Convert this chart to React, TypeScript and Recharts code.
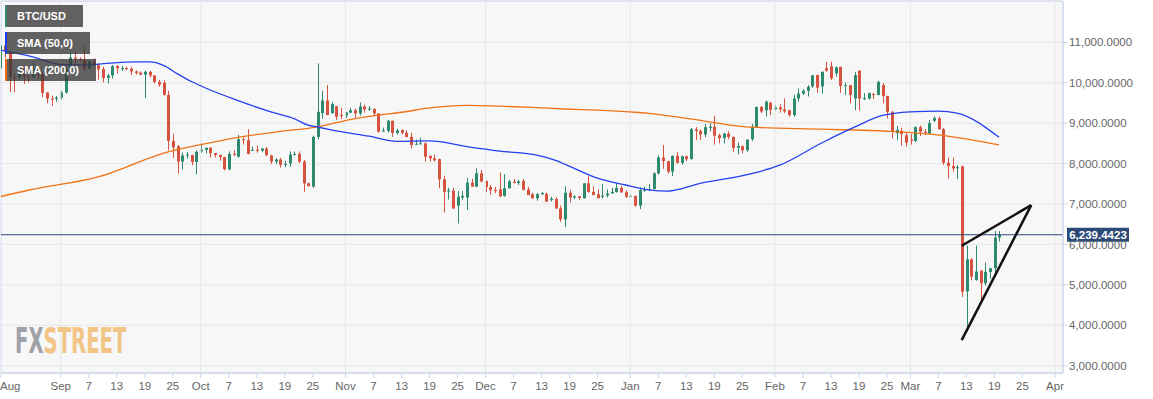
import React from 'react';
import { ComposedChart, Bar, Line, XAxis, YAxis, CartesianGrid, ReferenceLine, ReferenceArea } from 'recharts';

// daily candles [open, high, low, close], day 0 = Sep 1 2019
const augCandles = [ // Aug 19..31
  [10350, 10930, 10310, 10920], [10920, 10950, 10620, 10760], [10760, 10770, 9770, 10140], [10140, 10230, 9760, 10130],
  [10140, 10440, 10080, 10410], [10410, 10430, 9970, 10160], [10160, 10310, 10010, 10140], [10130, 10510, 10130, 10370],
  [10370, 10380, 10090, 10190], [10200, 10280, 9640, 9750], [9760, 9760, 9490, 9610], [9610, 9680, 9430, 9600],
  [9600, 9670, 9530, 9630],
];
const sepCandles = [
  [9630, 9800, 9580, 9760], [9760, 10400, 9730, 10350], [10350, 10740, 10310, 10620], [10620, 10760, 10430, 10590],
  [10590, 10630, 10520, 10580], [10580, 10930, 10290, 10350], [10350, 10560, 10350, 10520], [10520, 10600, 10410, 10440],
  [10440, 10480, 10070, 10330], [10340, 10390, 10010, 10120], [10120, 10220, 9980, 10180], [10180, 10440, 10100, 10410],
  [10410, 10440, 10230, 10360], [10350, 10420, 10290, 10360], [10360, 10390, 10310, 10350], [10350, 10390, 10190, 10280],
  [10280, 10300, 10200, 10240], [10250, 10280, 10190, 10200], [10200, 10300, 9620, 10270], [10270, 10290, 10130, 10180],
  [10180, 10190, 9980, 10020], [10020, 10070, 9900, 9950], [10000, 10060, 9680, 9700], [9700, 9800, 8330, 8560],
  [8560, 8740, 8140, 8400], [8430, 8460, 7750, 8050], [8050, 8270, 7850, 8200], [8200, 8290, 8120, 8220],
  [8210, 8220, 7960, 8040], [8040, 8330, 7730, 8290],
];
const octCandles = [
  [8300, 8500, 8270, 8340], [8340, 8390, 8250, 8390], [8390, 8410, 8150, 8260], [8260, 8260, 8150, 8210],
  [8210, 8220, 8070, 8160], [8160, 8170, 7830, 7860], [7860, 8300, 7830, 8240], [8240, 8330, 8190, 8230],
  [8170, 8710, 8150, 8600], [8600, 8650, 8470, 8580], [8580, 8850, 8230, 8240], [8320, 8420, 8310, 8340],
  [8340, 8450, 8270, 8320], [8320, 8390, 8280, 8370], [8370, 8410, 8180, 8210], [8200, 8220, 7990, 8050],
  [8050, 8130, 7990, 8100], [8100, 8140, 7900, 7970], [7970, 8070, 7910, 7990], [8000, 8300, 7920, 8220],
  [8230, 8300, 8200, 8240], [8240, 8300, 8010, 8050], [8050, 8090, 7300, 7510], [7510, 7530, 7440, 7440],
  [7430, 8690, 7400, 8660], [8660, 10480, 8600, 9280], [9250, 9800, 9110, 9560], [9560, 9940, 9200, 9200],
  [9250, 9520, 9230, 9470], [9420, 9430, 9080, 9160], [9200, 9380, 9100, 9190],
];
const novCandles = [
  [9190, 9280, 9130, 9260], [9260, 9380, 9250, 9320], [9320, 9360, 9130, 9240], [9240, 9510, 9190, 9410],
  [9410, 9460, 9260, 9340], [9340, 9420, 9300, 9360], [9350, 9370, 9200, 9240], [9240, 9240, 8760, 8790],
  [8810, 8890, 8790, 8820], [8810, 9080, 8770, 9060], [9060, 9060, 8660, 8760], [8760, 8860, 8720, 8820],
  [8830, 8850, 8730, 8760], [8760, 8820, 8650, 8660], [8660, 8760, 8380, 8460], [8470, 8590, 8460, 8490],
  [8480, 8640, 8480, 8500], [8500, 8520, 8050, 8170], [8190, 8200, 8050, 8130], [8130, 8220, 8050, 8080],
  [8110, 8120, 7390, 7610], [7610, 7700, 6790, 7300], [7310, 7400, 7110, 7340], [7330, 7400, 6880, 6890],
  [6960, 7320, 6520, 7180], [7160, 7320, 7100, 7200], [7160, 7650, 6850, 7530], [7530, 7620, 7430, 7430],
  [7430, 7880, 7420, 7760], [7760, 7840, 7530, 7560],
];
const decCandles = [
  [7570, 7580, 7290, 7420], [7420, 7470, 7230, 7350], [7350, 7420, 7270, 7320], [7360, 7780, 7170, 7190],
  [7200, 7740, 7180, 7390], [7390, 7600, 7380, 7560], [7550, 7620, 7510, 7520], [7520, 7600, 7470, 7560],
  [7570, 7620, 7340, 7350], [7360, 7420, 7230, 7220], [7240, 7280, 7130, 7140], [7140, 7270, 7080, 7240],
  [7240, 7300, 7230, 7270], [7250, 7280, 7050, 7060], [7100, 7180, 7060, 7130], [7120, 7170, 6880, 6890],
  [6890, 6960, 6560, 6620], [6620, 7440, 6430, 7280], [7280, 7350, 7040, 7160], [7160, 7220, 7120, 7190],
  [7190, 7200, 7100, 7150], [7140, 7520, 7140, 7510], [7510, 7690, 7280, 7300], [7300, 7440, 7240, 7220],
  [7240, 7360, 7150, 7140], [7180, 7500, 7140, 7210], [7210, 7360, 7160, 7260], [7260, 7400, 7260, 7300],
  [7300, 7520, 7280, 7400], [7400, 7450, 7270, 7290], [7290, 7340, 7150, 7180],
];
const janCandles = [
  [7180, 7250, 7170, 7200], [7200, 7210, 6930, 6960], [6960, 7410, 6870, 7340], [7340, 7430, 7300, 7350],
  [7350, 7500, 7320, 7370], [7370, 7780, 7360, 7760], [7760, 8200, 7730, 8150], [8150, 8460, 7870, 8060],
  [8060, 8070, 7750, 7800], [7800, 8200, 7690, 8190], [8190, 8280, 8000, 8020], [8020, 8200, 7970, 8180],
  [8180, 8200, 8060, 8110], [8110, 8880, 8100, 8850], [8850, 8900, 8580, 8810], [8810, 8850, 8580, 8720],
  [8720, 8980, 8650, 8900], [8900, 9000, 8800, 8910], [8910, 9180, 8470, 8690], [8700, 8740, 8500, 8630],
  [8630, 8760, 8500, 8740], [8740, 8800, 8600, 8660], [8660, 8670, 8280, 8390], [8390, 8520, 8230, 8430],
  [8430, 8450, 8260, 8330], [8330, 8600, 8290, 8590], [8600, 8980, 8560, 8910], [8910, 9410, 8880, 9400],
  [9400, 9430, 9250, 9290], [9320, 9560, 9170, 9530], [9500, 9530, 9200, 9330],
];
const febCandles = [
  [9340, 9440, 9310, 9390], [9390, 9470, 9260, 9340], [9340, 9610, 9250, 9290], [9320, 9330, 9160, 9200],
  [9200, 9700, 9160, 9610], [9610, 9860, 9540, 9730], [9730, 9840, 9700, 9800], [9800, 9940, 9660, 9900],
  [9910, 10190, 9870, 10180], [10190, 10200, 9750, 9880], [9910, 10280, 9730, 10270], [10360, 10520, 10270, 10300],
  [10410, 10520, 10070, 10110], [10230, 10400, 10150, 10380], [10390, 10400, 9750, 9920], [9920, 10000, 9700, 9940],
  [9940, 9950, 9490, 9700], [9610, 10270, 9320, 10190], [10300, 10300, 9310, 9610], [9610, 9740, 9570, 9620],
  [9610, 9760, 9580, 9740], [9720, 9740, 9600, 9700], [9700, 10050, 9690, 10020], [9940, 9990, 9490, 9670],
  [9670, 9680, 9120, 9280], [9280, 9300, 8620, 8790], [8750, 8930, 8580, 8830], [8810, 8890, 8440, 8730],
  [8700, 8780, 8420, 8520],
];
const marCandles = [ // Mar 1..20
  [8600, 8730, 8470, 8560], [8560, 8920, 8530, 8900], [8900, 8940, 8680, 8790], [8790, 8850, 8710, 8760],
  [8740, 9080, 8720, 9000], [9060, 9170, 9030, 9130], [9120, 9160, 8840, 8850], [8850, 8880, 7970, 8020],
  [8020, 8150, 7630, 7940], [7940, 8150, 7800, 7880], [7890, 7960, 7620, 7910], [7930, 7950, 4700, 4830],
  [4840, 5970, 3840, 5630], [5630, 5660, 5110, 5200], [5120, 5970, 5100, 5330], [5350, 5360, 4580, 5040],
  [5040, 5550, 4980, 5320], [5320, 5420, 5150, 5410], [5410, 6330, 5300, 6170], [6170, 6330, 6070, 6239],
];
const FIRST_DAY = -13; // Aug 19

// moving averages: [day, value]
const sma50Points = [
  [-13, 10810], [-6, 10640], [0, 10450], [5, 10440], [10, 10480], [16, 10515], [19, 10515], [22, 10430],
  [25, 10220], [28, 10030], [31, 9870], [38, 9560], [45, 9280], [50, 9110], [53, 8950], [55, 8905],
  [60, 8790], [66, 8680], [72, 8550], [79, 8560], [87, 8420], [94, 8310], [102, 8210], [106, 8080],
  [110, 7880], [115, 7640], [121, 7470], [126, 7350], [130, 7320], [137, 7510], [148, 7750], [154, 7960],
  [163, 8510], [170, 8900], [176, 9190], [182, 9280], [188, 9300], [192, 9250], [201, 8650],
];
const sma200Points = [
  [-13, 7180], [-7, 7340], [8, 7670], [23, 8290], [30, 8470], [38, 8650], [46, 8780], [55, 8910],
  [62, 9090], [67, 9180], [73, 9270], [80, 9390], [87, 9440], [94, 9420], [101, 9390], [108, 9350],
  [115, 9320], [123, 9270], [126, 9240], [134, 9120], [148, 8900], [163, 8850], [177, 8800], [190, 8680],
  [201, 8460],
];

const LAST_PRICE = 6239.4423;
// hand-drawn wedge: [day, price]
const wedgeTop = [[193, 5966], [207.9, 6973]];
const wedgeBottom = [[193, 3632], [207.9, 6973]];

const monthNames = ['Sep', 'Oct', 'Nov', 'Dec', 'Jan', 'Feb', 'Mar', 'Apr'];
const monthStarts = [0, 30, 61, 91, 122, 153, 182, 213];
const midMonthDays = [7, 13, 19, 25];
const priceTicks = [3000, 4000, 5000, 6000, 7000, 8000, 9000, 10000, 11000];

const X_MIN = -12.8;
const X_MAX = 214.7;
const Y_MIN = 2819;
const Y_MAX = 12022;

const GREEN = '#2e8a6e';
const RED = '#d5533f';
const FONT = '"Liberation Sans", Arial, sans-serif';

const candles = [...augCandles, ...sepCandles, ...octCandles, ...novCandles, ...decCandles, ...janCandles, ...febCandles, ...marCandles];
const sma50Map = new Map(sma50Points.map(([d, v]) => [d, v]));
const sma200Map = new Map(sma200Points.map(([d, v]) => [d, v]));

const data = candles.map(([open, high, low, close], i) => {
  const day = FIRST_DAY + i;
  return {
    day, open, high, low, close,
    range: [low, high],
    sma50: sma50Map.get(day) ?? null,
    sma200: sma200Map.get(day) ?? null,
  };
});

// x tick labels
const tickLabels = new Map<number, string>();
tickLabels.set(X_MIN, 'Aug');
monthStarts.forEach((s, i) => {
  tickLabels.set(s, monthNames[i]);
  if (i < monthStarts.length - 1) {
    midMonthDays.forEach((d) => tickLabels.set(s + d - 1, String(d)));
  }
});
const xTicks = Array.from(tickLabels.keys());

function Candle(props: any) {
  const { x, y, width, height, payload } = props;
  if (!payload) return null;
  const { open, close, high, low } = payload;
  const cx = Math.round(x + width / 2) + 0.5;
  const k = high > low ? height / (high - low) : 0;
  const yo = y + (high - open) * k;
  const yc = y + (high - close) * k;
  const color = close >= open ? GREEN : RED;
  const top = Math.min(yo, yc);
  const h = Math.max(1, Math.abs(yo - yc));
  return (
    <g>
      <line x1={cx} x2={cx} y1={y} y2={y + height} stroke={color} strokeWidth={1} />
      <rect x={cx - 1.5} y={top} width={3} height={h} fill={color} />
    </g>
  );
}

function DateTick(props: any) {
  const { x, y, payload } = props;
  const first = payload.value === X_MIN;
  return (
    <text x={first ? x - 1 : x} y={y} dy="0.71em" textAnchor={first ? 'start' : 'middle'} fill="#666" fontSize={11.5} fontFamily={FONT}>
      {tickLabels.get(payload.value)}
    </text>
  );
}

function PriceTag(props: any) {
  const vb = props.viewBox;
  if (!vb) return null;
  const x0 = vb.x + vb.width + 4;
  return (
    <g>
      <rect x={x0} y={vb.y - 7} width={62} height={14} fill="#2b4a76" />
      <text x={x0 + 31} y={vb.y + 4} textAnchor="middle" fill="#fff" fontSize={11.5} fontWeight="bold" fontFamily={FONT}>
        {LAST_PRICE.toLocaleString('en-US', { minimumFractionDigits: 4 })}
      </text>
    </g>
  );
}

const legendItems = [
  { label: 'BTC/USD', color: GREEN, top: 5, width: 78 },
  { label: 'SMA (50,0)', color: '#1c3cf2', top: 32, width: 85 },
  { label: 'SMA (200,0)', color: '#f26b0f', top: 59, width: 91 },
];

export default function App() {
  return (
    <div style={{ position: 'absolute', left: 0, top: 0, width: 1153, height: 399, background: '#fff', fontFamily: FONT }}>
      <ComposedChart width={1153} height={399} data={data} margin={{ top: 1, right: 0, bottom: 0, left: 1 }}>
        <CartesianGrid vertical={false} stroke="#e6e6e6" fill="#f7f7f7" />
        {monthStarts.map((s) => (
          <ReferenceLine key={s} x={s} stroke="#e6e6e6" />
        ))}
        <XAxis
          dataKey="day"
          type="number"
          domain={[X_MIN, X_MAX]}
          allowDataOverflow
          ticks={xTicks}
          interval={0}
          height={26}
          tick={<DateTick />}
          tickSize={5}
          tickMargin={4}
          stroke="#ccd6eb"
          axisLine={{ stroke: '#ccd6eb' }}
          tickLine={{ stroke: '#ccd6eb' }}
        />
        <YAxis
          orientation="right"
          type="number"
          domain={[Y_MIN, Y_MAX]}
          allowDataOverflow
          ticks={priceTicks}
          interval={0}
          width={90}
          tickSize={5}
          tickMargin={1}
          tickFormatter={(v: number) => v.toLocaleString('en-US', { minimumFractionDigits: 4 })}
          tick={{ fill: '#666', fontSize: 11.5, fontFamily: FONT }}
          axisLine={{ stroke: '#ccd6eb' }}
          tickLine={{ stroke: '#ccd6eb' }}
        />
        <ReferenceArea x1={X_MIN} x2={X_MAX} y1={Y_MIN} y2={Y_MAX} fill="none" stroke="#ccd6eb" />
        <Bar dataKey="range" barSize={3} shape={<Candle />} isAnimationActive={false} />
        <Line dataKey="sma200" type="monotone" stroke="#f07216" strokeWidth={1.3} dot={false} connectNulls isAnimationActive={false} />
        <Line dataKey="sma50" type="monotone" stroke="#2540f0" strokeWidth={1.3} dot={false} connectNulls isAnimationActive={false} />
        <ReferenceLine y={LAST_PRICE} stroke="#2b4a76" strokeWidth={1} label={<PriceTag />} />
        <ReferenceLine
          segment={wedgeTop.map(([x, y]) => ({ x, y }))}
          stroke="#111"
          strokeWidth={2.5}
        />
        <ReferenceLine
          segment={wedgeBottom.map(([x, y]) => ({ x, y }))}
          stroke="#111"
          strokeWidth={2.5}
        />
      </ComposedChart>

      {/* legend boxes */}
      {legendItems.map((it) => (
        <div
          key={it.label}
          style={{
            position: 'absolute', left: 5, top: it.top, width: it.width, height: 22,
            background: 'rgba(55,55,55,0.78)', borderLeft: `2px solid ${it.color}`, boxSizing: 'border-box',
            color: '#fff', fontSize: 11, fontWeight: 'bold', lineHeight: '22px', paddingLeft: 10, whiteSpace: 'nowrap',
          }}
        >
          {it.label}
        </div>
      ))}

      {/* watermark */}
      <svg width={260} height={50} style={{ position: 'absolute', left: 0, top: 315 }}>
        <text transform="translate(15,38) scale(0.606,1)" fontSize={36} fontWeight="bold" fontFamily='"DejaVu Sans Condensed", sans-serif'>
          <tspan fill="#9ea1a7">FX</tspan>
          <tspan fill="#f2c486">STREET</tspan>
        </text>
      </svg>
    </div>
  );
}
